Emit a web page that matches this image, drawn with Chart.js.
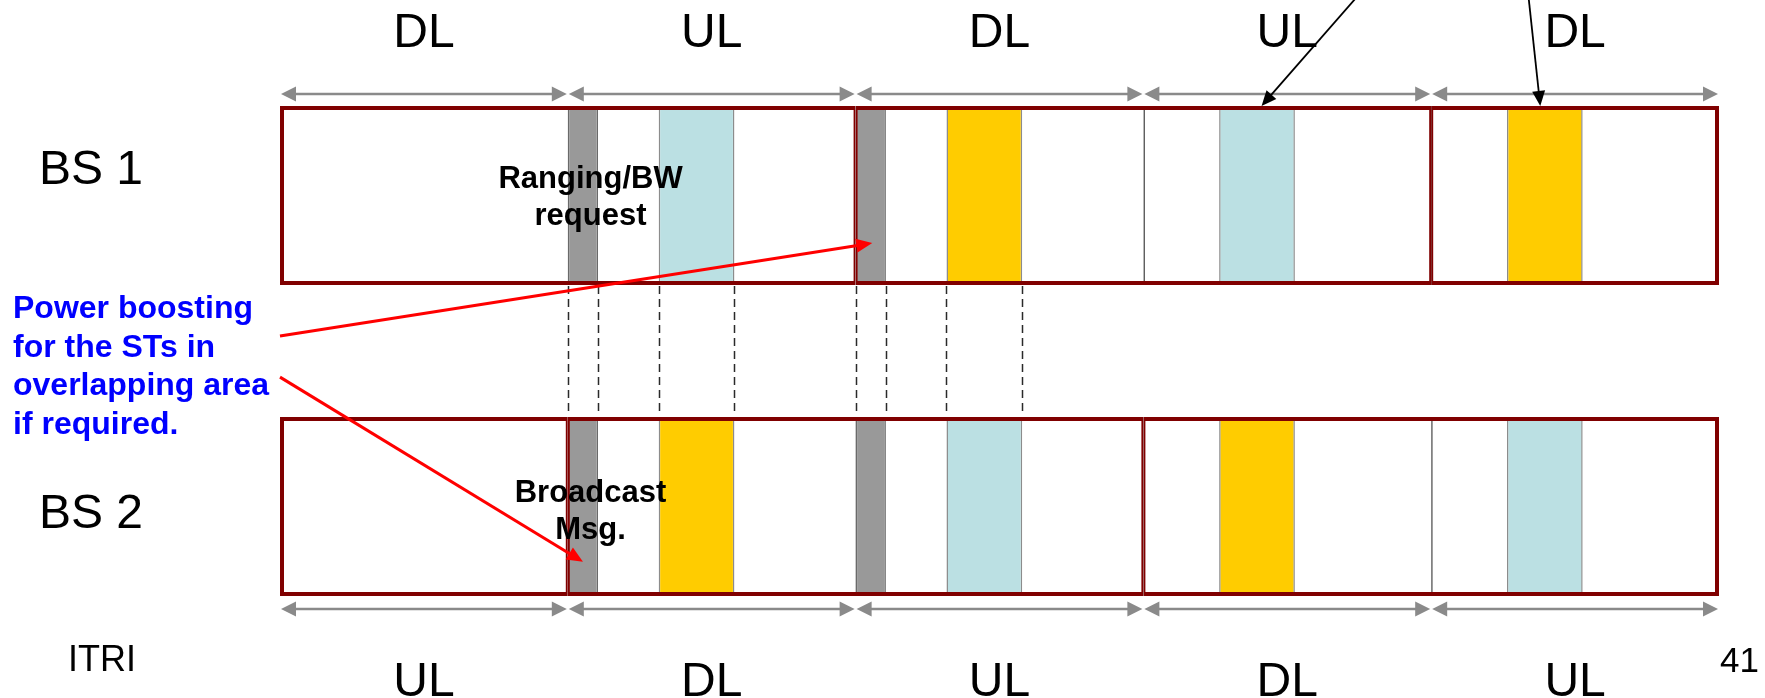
<!DOCTYPE html>
<html>
<head>
<meta charset="utf-8">
<script src="https://cdn.jsdelivr.net/npm/chart.js@4/dist/chart.umd.min.js"></script>
<style>
  html,body{margin:0;padding:0;background:#fff;}
  #wrap{width:1765px;height:698px;position:relative;}
</style>
</head>
<body>
<div id="wrap"><canvas id="frame-chart"></canvas></div>
<script>
// ── data ──────────────────────────────────────────────
// x axis = time in symbol units, one DL/UL subframe = 19 units
const SEG = 19;
const TOTAL = 95;
const rows = ['BS 1','BS 2'];
const phasesTop = ['DL','UL','DL','UL','DL'];   // BS 1
const phasesBottom = ['UL','DL','UL','DL','UL']; // BS 2
const subframes = [[0,19],[19,38],[38,57],[57,76],[76,95]];
const framesBS1 = [[0,38],[38,76],[76,95]];
const framesBS2 = [[0,19],[19,57],[57,95]];
const graySlotsBS1 = [[19,21],[38,40]];
const graySlotsBS2 = [[19,21],[38,40]];
const blueSlotsBS1 = [[25,30],[62,67]];
const yellowSlotsBS1 = [[44,49],[81,86]];
const yellowSlotsBS2 = [[25,30],[62,67]];
const blueSlotsBS2 = [[44,49],[81,86]];
const guideLinesX = [19,21,25,30,38,40,44,49];
// arrows: [x, row-position] pairs (row-position in category units, 0 = BS 1, 1 = BS 2)
const boostArrows = [
  {from:[0,0.452], to:[39.1,0.153]},
  {from:[0,0.584], to:[20.0,1.178]}
];
const pointerArrows = [
  {from:[71.3,-0.65], to:[64.8,-0.288]},
  {from:[82.4,-0.65], to:[83.2,-0.288]}
];
const slotNotes = [
  {lines:['Ranging/BW','request'], x:20.5, y:-0.024},
  {lines:['Broadcast','Msg.'], x:20.5, y:0.985}
];
const noteLines = ['Power boosting','for the STs in','overlapping area','if required.'];

const FONT = '"Liberation Sans", Arial, Helvetica, sans-serif';
const BAR_PCT = 0.5756;

const pts = (list,row)=>list.map(r=>({x:r,y:row}));

function head(ctx,x1,y1,x2,y2,len,half){
  const a=Math.atan2(y2-y1,x2-x1), c=Math.cos(a), s=Math.sin(a);
  ctx.beginPath();
  ctx.moveTo(x2,y2);
  ctx.lineTo(x2-len*c+half*s, y2-len*s-half*c);
  ctx.lineTo(x2-len*c-half*s, y2-len*s+half*c);
  ctx.closePath(); ctx.fill();
}
function arrow(ctx,x1,y1,x2,y2,o){
  const a=Math.atan2(y2-y1,x2-x1);
  ctx.strokeStyle=o.color; ctx.fillStyle=o.color; ctx.lineWidth=o.width;
  ctx.beginPath(); ctx.moveTo(x1,y1);
  ctx.lineTo(x2-(o.len-1)*Math.cos(a), y2-(o.len-1)*Math.sin(a)); ctx.stroke();
  head(ctx,x1,y1,x2,y2,o.len,o.half);
}
function dblArrow(ctx,x1,x2,y){
  const o={color:'#8a8a8a',width:2.5,len:15,half:7.5};
  ctx.strokeStyle=o.color; ctx.fillStyle=o.color; ctx.lineWidth=o.width;
  ctx.beginPath(); ctx.moveTo(x1+10,y); ctx.lineTo(x2-10,y); ctx.stroke();
  head(ctx,x2,y,x1,y,o.len,o.half);
  head(ctx,x1,y,x2,y,o.len,o.half);
}

const overlay = {
  id:'overlay',
  afterDatasetsDraw(chart){
    const {ctx, scales:{x,y}} = chart;
    const half = BAR_PCT*(y.getPixelForValue(1)-y.getPixelForValue(0))/2;
    const top1 = y.getPixelForValue(0)-half, bot1 = y.getPixelForValue(0)+half;
    const top2 = y.getPixelForValue(1)-half, bot2 = y.getPixelForValue(1)+half;
    ctx.save();

    // dashed alignment guides between the two frames
    ctx.strokeStyle='#2a2a2a'; ctx.lineWidth=1.5; ctx.setLineDash([8,5]);
    guideLinesX.forEach(v=>{
      const px=Math.round(x.getPixelForValue(v))+0.5;
      ctx.beginPath(); ctx.moveTo(px,bot1+1); ctx.lineTo(px,top2-1); ctx.stroke();
    });
    ctx.setLineDash([]);

    // subframe length arrows + DL/UL labels
    ctx.font='48px '+FONT; ctx.textAlign='center'; ctx.textBaseline='alphabetic';
    subframes.forEach(([a,b],i)=>{
      const xa=x.getPixelForValue(a), xb=x.getPixelForValue(b);
      dblArrow(ctx,xa+1,xb-1,top1-12);
      dblArrow(ctx,xa+1,xb-1,bot2+13);
      ctx.fillStyle='#000';
      ctx.fillText(phasesTop[i],(xa+xb)/2,top1-59);
      ctx.fillText(phasesBottom[i],(xa+xb)/2,bot2+100);
    });

    // row names
    ctx.textAlign='left'; ctx.fillStyle='#000';
    ctx.fillText(rows[0],39,top1+78);
    ctx.fillText(rows[1],39,top2+111);
    ctx.font='36px '+FONT;
    ctx.fillText('ITRI',68,671);
    ctx.font='35px '+FONT;
    ctx.fillText('41',1720,672);

    // slot notes
    ctx.font='bold 31px '+FONT; ctx.textAlign='center'; ctx.fillStyle='#000';
    slotNotes.forEach(n=>{
      n.lines.forEach((t,k)=>ctx.fillText(t,x.getPixelForValue(n.x),y.getPixelForValue(n.y)+k*37));
    });

    // blue note
    ctx.font='bold 32px '+FONT;
    ctx.textAlign='left'; ctx.fillStyle='#0000ff';
    noteLines.forEach((t,k)=>ctx.fillText(t,13,318+k*38.5));

    // red power-boost arrows
    boostArrows.forEach(a=>arrow(ctx,
      x.getPixelForValue(a.from[0]),y.getPixelForValue(a.from[1]),
      x.getPixelForValue(a.to[0]),y.getPixelForValue(a.to[1]),
      {color:'#ff0000',width:3,len:16,half:7}));

    // black pointer arrows from above
    pointerArrows.forEach(a=>arrow(ctx,
      x.getPixelForValue(a.from[0]),y.getPixelForValue(a.from[1]),
      x.getPixelForValue(a.to[0]),y.getPixelForValue(a.to[1]),
      {color:'#000',width:1.8,len:15,half:6.5}));

    ctx.restore();
  }
};

const sideBorder = {left:1.5,right:1.5,top:0,bottom:0};

new Chart(document.getElementById('frame-chart'),{
  type:'bar',
  data:{
    labels:rows,
    datasets:[
      {label:'frame', data:[...pts(framesBS1,rows[0]),...pts(framesBS2,rows[1])],
        backgroundColor:'rgba(0,0,0,0)', borderColor:'#800000',
        borderWidth:c=>({top:4,bottom:4,left:c.raw.x[0]===0?4:2,right:c.raw.x[1]===TOTAL?4:2})},
      {label:'ranging', data:[...pts(graySlotsBS1,rows[0]),...pts(graySlotsBS2,rows[1])],
        backgroundColor:'#999999', borderColor:'#6a6a6a', borderWidth:sideBorder},
      {label:'UL burst', data:[...pts(blueSlotsBS1,rows[0]),...pts(blueSlotsBS2,rows[1])],
        backgroundColor:'#bbe0e3', borderColor:'#8c8c8c', borderWidth:sideBorder},
      {label:'DL burst', data:[...pts(yellowSlotsBS1,rows[0]),...pts(yellowSlotsBS2,rows[1])],
        backgroundColor:'#ffcc00', borderColor:'#8c8c8c', borderWidth:sideBorder},
      {label:'subframe', data:rows.flatMap(r=>pts(subframes,r)),
        backgroundColor:'#ffffff', borderColor:'#3a3a3a', borderWidth:{left:1.5,right:0,top:0,bottom:0}}
    ]
  },
  options:{
    indexAxis:'y',
    responsive:true, maintainAspectRatio:false, animation:false,
    layout:{padding:{left:280,right:46,top:40,bottom:36}},
    datasets:{bar:{grouped:false,barPercentage:BAR_PCT,categoryPercentage:1,borderSkipped:false}},
    plugins:{legend:{display:false},tooltip:{enabled:false}},
    scales:{
      x:{type:'linear',min:0,max:TOTAL,display:false},
      y:{type:'category',offset:true,display:false}
    }
  },
  plugins:[overlay]
});
</script>
</body>
</html>
